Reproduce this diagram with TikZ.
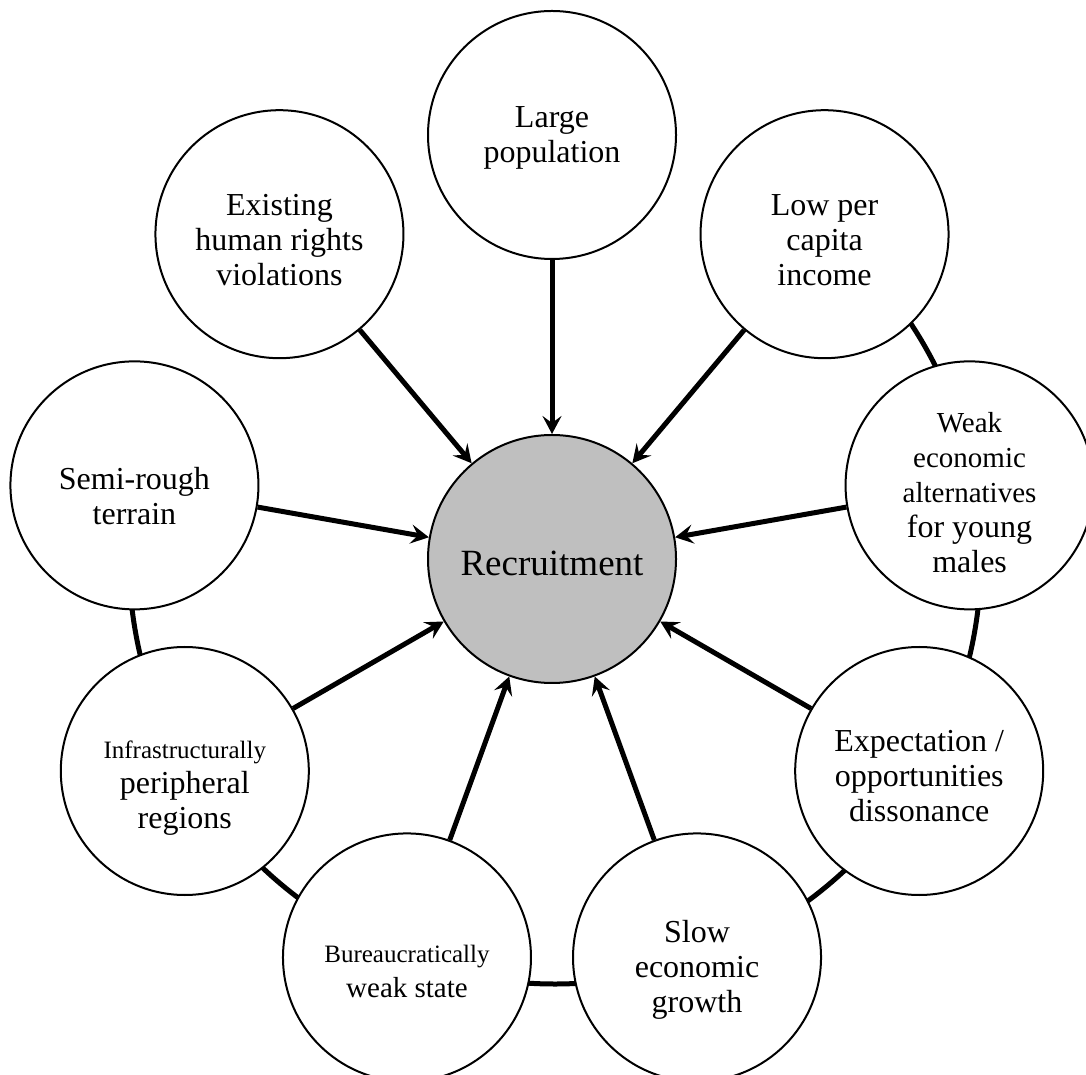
\documentclass[tikz,border=0pt]{standalone}
\usepackage{fontspec}
\setmainfont{Liberation Serif}
\usetikzlibrary{arrows.meta}
\definecolor{hubgray}{RGB}{191,191,191}
\begin{document}
\begin{tikzpicture}[x=1pt,y=1pt,
  factor/.style={circle, draw=black, line width=2pt, fill=white, minimum size=248pt, inner sep=0pt},
  hub/.style={factor, fill=hubgray},
  lbl/.style={align=center, font=\fontsize{32}{35}\selectfont, inner sep=0pt},
  arr/.style={line width=5pt, -{Stealth[length=18pt,width=19pt,inset=7pt]}},
  ringline/.style={line width=5pt}]
\useasboundingbox (0,0) rectangle (1086,1074);
\clip (0,0) rectangle (1086,1074);
\coordinate (c) at (552,515);
\coordinate (rc) at (555,516);
% ring connecting the lower circles
\draw[ringline] (rc) ++(50:426) arc[start angle=50, end angle=-190, radius=426];
% circles
\node[hub] (rec) at (c) {};
\node[factor] (pop) at ([shift={(90:424)}]c) {};
\node[factor] (inc) at ([shift={(50:424)}]c) {};
\node[factor] (alt) at ([shift={(10:424)}]c) {};
\node[factor] (exp) at ([shift={(-30:424)}]c) {};
\node[factor] (slow) at ([shift={(-70:424)}]c) {};
\node[factor] (bur) at ([shift={(-110:424)}]c) {};
\node[factor] (inf) at ([shift={(-150:424)}]c) {};
\node[factor] (ter) at ([shift={(170:424)}]c) {};
\node[factor] (hr) at ([shift={(130:424)}]c) {};
% labels
\node[lbl, font=\fontsize{37}{40}\selectfont] (rec-t) at ([yshift=-4pt]rec.center) {Recruitment};
\node[lbl] (pop-t) at ([yshift=-3pt]pop.center) {Large\\population};
\node[lbl] (inc-t) at ([yshift=-6pt]inc.center) {Low per\\capita\\income};
\node[lbl] (alt-t) at ([yshift=-7pt]alt.center) {{\fontsize{29}{35}\selectfont Weak}\\{\fontsize{29}{35}\selectfont economic}\\{\fontsize{29}{35}\selectfont alternatives}\\for young\\males};
\node[lbl] (exp-t) at ([yshift=-5pt]exp.center) {Expectation /\\opportunities\\dissonance};
\node[lbl] (slow-t) at ([yshift=-12pt]slow.center) {Slow\\economic\\growth};
\node[lbl] (bur-t) at ([yshift=-14pt]bur.center) {{\fontsize{25}{35}\selectfont Bureaucratically}\\{\fontsize{29}{35}\selectfont weak state}};
\node[lbl] (inf-t) at ([yshift=-17pt]inf.center) {{\fontsize{25}{35}\selectfont Infrastructurally}\\peripheral\\regions};
\node[lbl] (ter-t) at ([yshift=-11pt]ter.center) {Semi-rough\\terrain};
\node[lbl] (hr-t) at ([yshift=-6pt]hr.center) {Existing\\human rights\\violations};
% arrows
\foreach \n in {pop,inc,alt,exp,slow,bur,inf,ter,hr}
  \draw[arr] (\n) -- (rec);
\end{tikzpicture}
\end{document}
